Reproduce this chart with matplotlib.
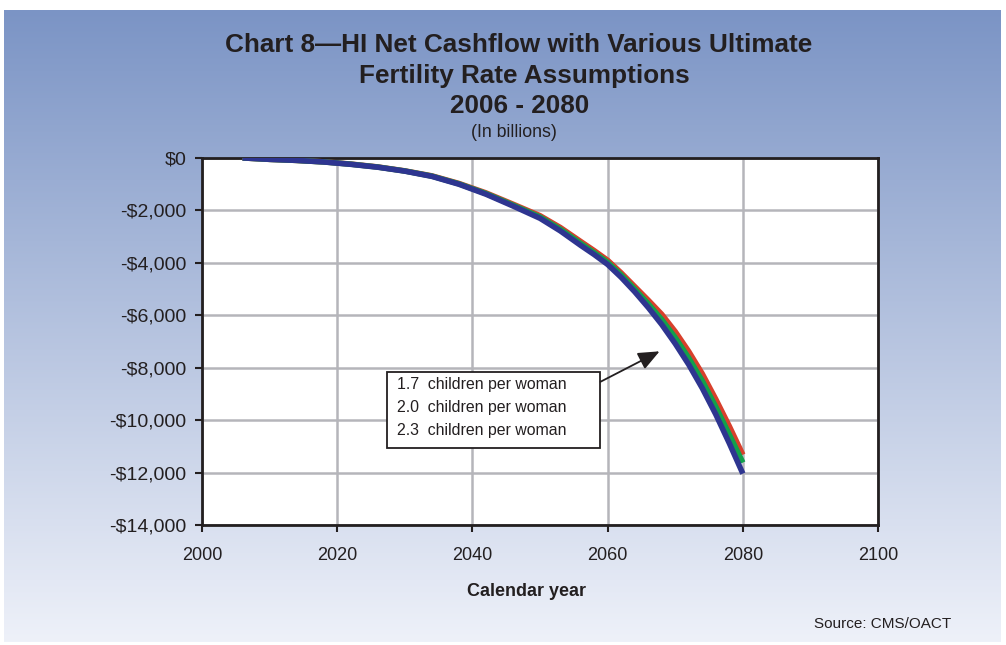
import matplotlib.pyplot as plt
import numpy as np
from matplotlib.patches import Rectangle
from matplotlib.ticker import FuncFormatter

plt.rcParams['font.family'] = ['Liberation Sans', 'DejaVu Sans']

# HI net cashflow (billions)
years = [2006, 2010, 2014, 2018, 2022, 2026, 2030, 2034, 2038, 2042, 2046, 2050, 2053,
         2056, 2058, 2060, 2062, 2064, 2066, 2068, 2070, 2072, 2074, 2076, 2078, 2080]
fert_23 = [5, -50, -90, -145, -230, -340, -490, -680, -970, -1330, -1760, -2200, -2650,
           -3180, -3530, -3900, -4380, -4900, -5420, -5960, -6620, -7380, -8230, -9200, -10230, -11320]
fert_20 = [5, -50, -90, -148, -235, -345, -495, -690, -985, -1355, -1795, -2250, -2715,
           -3255, -3610, -3980, -4460, -5000, -5560, -6160, -6850, -7630, -8500, -9490, -10550, -11620]
fert_17 = [5, -50, -90, -150, -240, -350, -500, -700, -1000, -1380, -1830, -2300, -2780,
           -3330, -3680, -4060, -4550, -5100, -5700, -6350, -7080, -7880, -8780, -9780, -10880, -12040]
labels = ['1.7  children per woman', '2.0  children per woman', '2.3  children per woman']

fig = plt.figure(figsize=(10.06, 6.45), dpi=100)

# background gradient
bg = fig.add_axes([0.004, 0.004, 0.991, 0.98], zorder=-10)
top = np.array([123, 148, 197]) / 255
bot = np.array([238, 241, 249]) / 255
t = np.linspace(0, 1, 256)[:, None]
grad = top * (1 - t) + bot * t
bg.imshow(grad[:, None, :], aspect='auto', extent=[0, 1, 0, 1])
bg.axis('off')

ax = fig.add_axes([0.2008, 0.186, 0.672, 0.569])
ax.set_facecolor('white')
ax.plot(years, fert_23, color='#d8402c', lw=4, zorder=3, solid_capstyle='butt')
ax.plot(years, fert_20, color='#12a04c', lw=4, zorder=4, solid_capstyle='butt')
ax.plot(years, fert_17, color='#2e3590', lw=4, zorder=5, solid_capstyle='butt')

ax.set_xlim(2000, 2100)
ax.set_ylim(-14000, 0)
ax.set_xticks(range(2000, 2101, 20))
ax.set_yticks(range(-14000, 1, 2000))
ax.yaxis.set_major_formatter(FuncFormatter(lambda v, p: '$0' if v == 0 else '-${:,.0f}'.format(abs(v))))
ax.grid(True, color='#b5b5ba', lw=1.8)
ax.set_axisbelow(True)
for s in ax.spines.values():
    s.set_linewidth(2)
    s.set_color('#231f20')
ax.tick_params(length=5, width=1.5, labelsize=13, colors='#231f20')
ax.tick_params(axis='y', labelsize=14, pad=6)
ax.tick_params(axis='x', pad=11)

# legend-like box with arrow
ax.add_patch(Rectangle((0.2737, 0.2098), 0.3151, 0.2071, transform=ax.transAxes,
                       facecolor='white', edgecolor='#231f20', lw=1.3, zorder=6))
for i, lab in enumerate(labels):
    ax.text(0.2885, 0.384 - i * 0.0626, lab, transform=ax.transAxes, fontsize=11.4,
            va='center', ha='left', zorder=7, color='#231f20')
ax.annotate('', xy=(0.6805, 0.4768), xytext=(0.5858, 0.3869),
            xycoords='axes fraction', textcoords='axes fraction',
            arrowprops=dict(arrowstyle='-|>,head_length=1.3,head_width=0.55', color='#231f20', lw=1.3),
            zorder=8)

fig.text(0.516, 0.930, 'Chart 8\u2014HI Net Cashflow with Various Ultimate', ha='center', va='center',
         fontsize=18.8, fontweight='bold', color='#231f20')
fig.text(0.521, 0.882, 'Fertility Rate Assumptions', ha='center', va='center',
         fontsize=18.8, fontweight='bold', color='#231f20')
fig.text(0.517, 0.835, '2006 - 2080', ha='center', va='center',
         fontsize=18.8, fontweight='bold', color='#231f20')
fig.text(0.511, 0.795, '(In billions)', ha='center', va='center', fontsize=12.8, color='#231f20')
fig.text(0.523, 0.083, 'Calendar year', ha='center', va='center', fontsize=13,
         fontweight='bold', color='#231f20')
fig.text(0.946, 0.032, 'Source: CMS/OACT', ha='right', va='center', fontsize=11, color='#231f20')

fig.savefig('out.png', dpi=100)
